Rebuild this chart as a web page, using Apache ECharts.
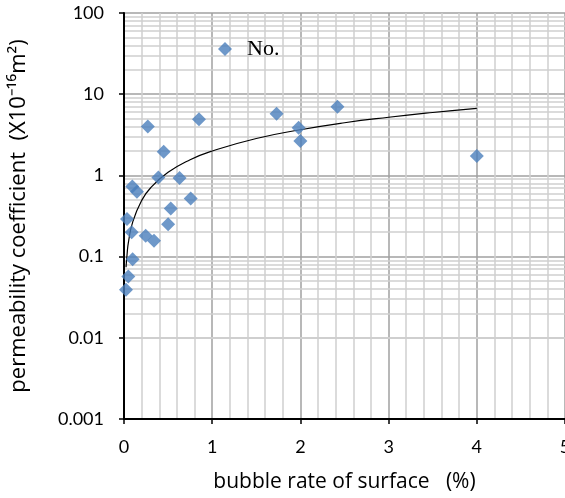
<!DOCTYPE html>
<html>
<head>
<meta charset="utf-8">
<script src="https://cdn.jsdelivr.net/npm/echarts@6/dist/echarts.min.js"></script>
<style>
  html, body { margin: 0; padding: 0; background: #fff; }
  #chart { width: 565px; height: 498px; }
</style>
</head>
<body>
<div id="chart"></div>
<script>
// bubble rate of surface (%) and permeability coefficient (x10^-16 m2)
var bubbleRate = [0.27, 0.85, 0.45, 0.39, 0.63, 0.094, 0.147, 0.756, 0.53, 0.034, 0.50,
  0.087, 0.246, 0.34, 0.098, 0.049, 0.023, 2.42, 1.73, 1.98, 2.0, 4.0];
var permeability = [4.0, 4.9, 1.96, 0.94, 0.93, 0.73, 0.63, 0.52, 0.39, 0.29, 0.25,
  0.20, 0.18, 0.157, 0.093, 0.057, 0.039, 7.0, 5.75, 3.87, 2.65, 1.73];

// trend line
var trendX = [0.023, 0.035, 0.05, 0.1, 0.2, 0.3, 0.5, 0.75, 1, 1.5, 2, 2.5, 3, 3.5, 4];
var trendY = [0.074, 0.107, 0.15, 0.27, 0.49, 0.70, 1.09, 1.56, 2.0, 2.85, 3.65, 4.45, 5.2, 5.95, 6.7];

var yTicks = [0.001, 0.01, 0.1, 1, 10, 100];

var dom = document.getElementById('chart');
var myChart = echarts.init(dom, null, { renderer: 'canvas' });

var points = bubbleRate.map(function (x, i) { return [x, permeability[i]]; });
var trend = trendX.map(function (x, i) { return [x, trendY[i]]; });

// minor log grid lines 2..9 in each decade
var minorLines = [];
for (var d = 0; d < yTicks.length - 1; d++) {
  for (var k = 2; k <= 9; k++) {
    minorLines.push({ yAxis: +(yTicks[d] * k).toPrecision(3) });
  }
}

var option = {
  animation: false,
  grid: { left: 124, right: 0, top: 13, bottom: 79, outerBoundsMode: 'none', containLabel: false },
  legend: {
    data: [{ name: 'No.', icon: 'diamond' }],
    left: 213, top: 33,
    itemWidth: 14, itemHeight: 14,
    textStyle: { fontFamily: 'Liberation Serif', fontSize: 22, color: '#000', padding: [0, 0, 0, 10] }
  },
  xAxis: {
    type: 'value',
    min: 0, max: 5, interval: 1,
    name: 'bubble rate of surface   (%)',
    nameLocation: 'middle',
    nameGap: 53,
    nameTextStyle: { fontFamily: 'Open Sans', fontSize: 21, color: '#000' },
    axisLine: { lineStyle: { color: '#000', width: 2 } },
    axisTick: { show: true, length: 5, lineStyle: { color: '#000', width: 1.5 } },
    axisLabel: { fontFamily: 'Lato', fontSize: 18, color: '#000', margin: 19 },
    splitLine: { show: true, lineStyle: { color: '#a0a0a0', width: 1.5 } },
    minorTick: { show: false, splitNumber: 5 },
    minorSplitLine: { show: true, lineStyle: { color: '#cfcfcf', width: 1.5 } }
  },
  yAxis: {
    type: 'log',
    logBase: 10,
    min: 0.001, max: 100,
    name: 'permeability coefficient  (X10\u207B\u00B9\u2076m\u00B2)',
    nameLocation: 'middle',
    nameGap: 94,
    nameTextStyle: { fontFamily: 'Open Sans', fontSize: 22, color: '#000' },
    axisLine: { show: true, lineStyle: { color: '#000', width: 2 } },
    axisTick: { show: true, length: 5, lineStyle: { color: '#000', width: 1.5 } },
    axisLabel: {
      fontFamily: 'Lato', fontSize: 18, color: '#000', margin: 20,
      formatter: function (v) { return String(+v.toPrecision(3)); }
    },
    splitLine: { show: true, lineStyle: { color: '#a0a0a0', width: 1.5 } }
  },
  series: [
    {
      name: 'minor',
      type: 'line',
      data: [],
      silent: true,
      z: 0,
      markLine: {
        silent: true,
        z: 0,
        symbol: 'none',
        label: { show: false },
        lineStyle: { color: '#cfcfcf', width: 1.5, type: 'solid' },
        emphasis: { disabled: true },
        data: minorLines
      }
    },
    {
      name: 'trend',
      type: 'line',
      data: trend,
      smooth: true,
      symbol: 'none',
      lineStyle: { color: '#000', width: 1.2 },
      z: 3
    },
    {
      name: 'No.',
      type: 'scatter',
      data: points,
      symbol: 'diamond',
      symbolSize: 14,
      itemStyle: { color: '#4a7ebb' },
      z: 4
    }
  ]
};

myChart.setOption(option);
window.addEventListener('resize', myChart.resize);
</script>
</body>
</html>
